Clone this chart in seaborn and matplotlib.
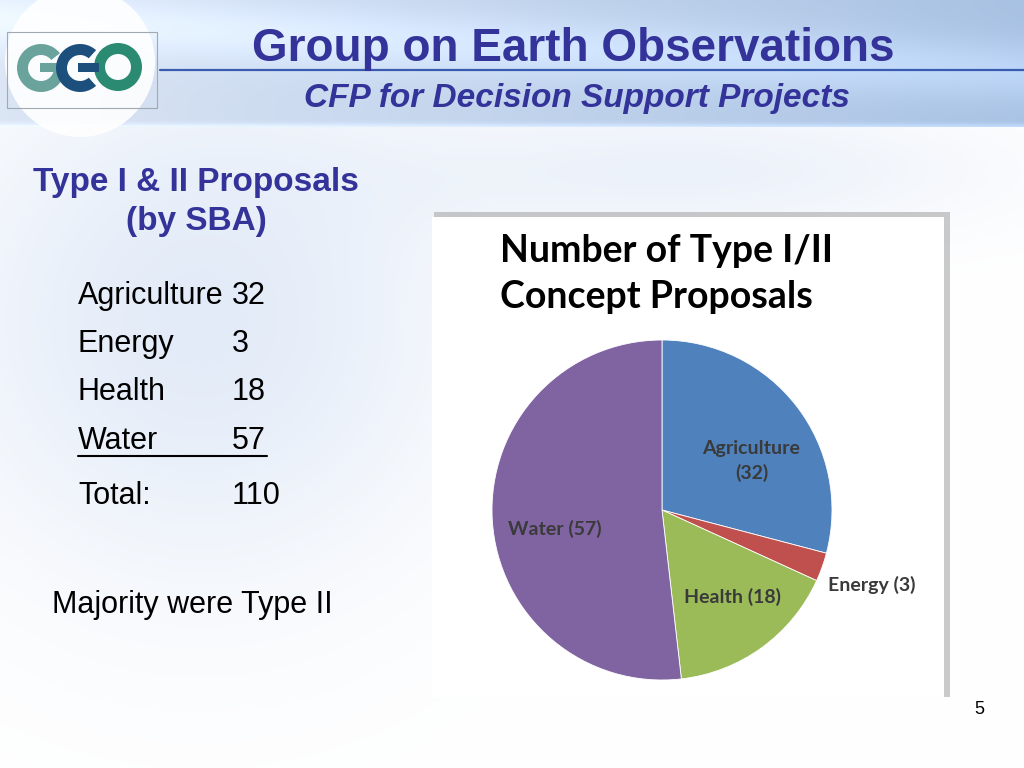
import numpy as np
import seaborn as sns
import matplotlib.pyplot as plt
from matplotlib.patches import Rectangle, Ellipse, Wedge

# --------------------------------------------------
# Data
# --------------------------------------------------

categories = ["Agriculture", "Energy", "Health", "Water"]
counts = [32, 3, 18, 57]
slice_colors = ["#4F81BD", "#C0504D", "#9BBB59", "#8064A2"]

slide_title = "Group on Earth Observations"
slide_subtitle = "CFP for Decision Support Projects"
left_heading = "Type I & II Proposals\n(by SBA)"
chart_title = "Number of Type I/II\nConcept Proposals"
note = "Majority were Type II"
page_no = "5"

# --------------------------------------------------
# Setup
# --------------------------------------------------

sns.set_theme(style="white")
plt.rcParams["font.family"] = ["Liberation Sans", "DejaVu Sans"]

W, H = 1024, 768
BLUE = "#33339a"

fig = plt.figure(figsize=(W / 100, H / 100), dpi=100)


def fx(x):
    return x / W


def fy(y):
    return 1 - y / H


# background gradient (slide theme)
bg = fig.add_axes([0, 0, 1, 1])
yy, xx = np.mgrid[0:H, 0:W]
img = np.ones((H, W, 3))
head = yy < 127
t = xx / W
top_col = np.stack([0.86 - 0.2 * t, 0.90 - 0.14 * t, 0.96 - 0.07 * t], axis=-1)
streak = np.exp(-((yy - 20 - 0.05 * xx) / 30.0) ** 2) * 0.08
top_col = np.clip(top_col + streak[..., None], 0, 1)
img[head] = top_col[head]
glow = np.exp(-((yy - 127) / 4.0) ** 2)[..., None]
img = np.clip(img + glow * 0.1, 0, 1)
tint = (np.exp(-(((xx - 200) / 260.0) ** 2 + ((yy - 320) / 260.0) ** 2)) * 0.11
        + np.exp(-(((xx - 700) / 300.0) ** 2 + ((yy - 170) / 70.0) ** 2)) * 0.07)
tint = tint * (~head)
img[..., 0] -= tint * 1.0
img[..., 1] -= tint * 0.7
img[..., 2] -= tint * 0.25
bg.imshow(img, extent=[0, W, H, 0], aspect="auto")
bg.set_xlim(0, W)
bg.set_ylim(H, 0)
bg.axis("off")

# logo (drawn as rings, y axis is inverted here)
bg.add_patch(Ellipse((80, 62), 150, 150, facecolor="white", edgecolor="none", alpha=0.9))
bg.add_patch(Rectangle((7, 32), 150, 76, fill=False, edgecolor="#a0a8b0", lw=0.8))
bg.add_patch(Wedge((41, 68), 24, 0, 322, width=11, facecolor="#6aa39c", edgecolor="none"))
bg.add_patch(Rectangle((40, 63), 24, 9, facecolor="#6aa39c", edgecolor="none"))
bg.add_patch(Wedge((118, 67), 24, 0, 360, width=11, facecolor="#2a8a72", edgecolor="none"))
bg.add_patch(Wedge((80, 68), 24, 48, 312, width=11, facecolor="#1d4f7c", edgecolor="none"))
bg.add_patch(Rectangle((78, 63), 21, 9, facecolor="#1d4f7c", edgecolor="none"))

# header
bg.plot([160, W], [70, 70], color="#3a5cb0", lw=1.6)
bg.text(573, 49, slide_title, color=BLUE, fontsize=33, fontweight="bold", ha="center", va="center")
bg.text(577, 99, slide_subtitle, color=BLUE, fontsize=24, fontweight="bold",
        fontstyle="italic", ha="center", va="center")

# left column
bg.text(196, 202, left_heading, color=BLUE, fontsize=24, fontweight="bold",
        ha="center", va="center", linespacing=1.3)

row_y = [296, 344, 392, 441]
for name, val, y in zip(categories, counts, row_y):
    bg.text(78, y, name, fontsize=22, color="black", va="center")
    bg.text(232, y, str(val), fontsize=22, color="black", va="center")
bg.plot([78, 267], [456, 456], color="black", lw=1.5)
bg.text(78, 496, "Total:", fontsize=22, color="black", va="center")
bg.text(232, 496, str(sum(counts)), fontsize=22, color="black", va="center")
bg.text(52, 605, note, fontsize=22, color="black", va="center")
bg.text(979, 709, page_no, fontsize=13, color="black", ha="center", va="center")

# chart panel with shadow
bg.add_patch(Rectangle((434, 212), 516, 485, facecolor="#a8a8a8", edgecolor="none", alpha=0.6))
bg.add_patch(Rectangle((432, 217), 512, 480, facecolor="white", edgecolor="none"))
bg.text(500, 274, chart_title, fontsize=27, fontweight="bold", color="black",
        family=["Lato", "DejaVu Sans"], ha="left", va="center", linespacing=1.45)

# --------------------------------------------------
# Pie
# --------------------------------------------------

cx, cy, r = 662, 510, 170
ax = fig.add_axes([fx(cx - r), fy(cy + r), 2 * r / W, 2 * r / H])
wedges, _ = ax.pie(counts, colors=slice_colors, startangle=90, counterclock=False,
                   wedgeprops=dict(edgecolor="white", linewidth=0.6))
ax.set_xlim(-1, 1)
ax.set_ylim(-1, 1)
ax.set_aspect("equal")
ax.axis("off")

label_text = ["{}\n({})", "{} ({})", "{} ({})", "{} ({})"]
label_dist = [0.6, 1.31, 0.66, 0.64]
label_shift = [-9, 0, 3, 7]
for w, name, val, fmt, d, s in zip(wedges, categories, counts, label_text, label_dist, label_shift):
    ang = np.deg2rad((w.theta1 + w.theta2) / 2 + s)
    ax.text(d * np.cos(ang), d * np.sin(ang), fmt.format(name, val), fontsize=14,
            fontweight="bold", color="#3a3a3a", family=["Lato", "DejaVu Sans"],
            ha="center", va="center", linespacing=1.45)

fig.savefig("out.png", dpi=100)
